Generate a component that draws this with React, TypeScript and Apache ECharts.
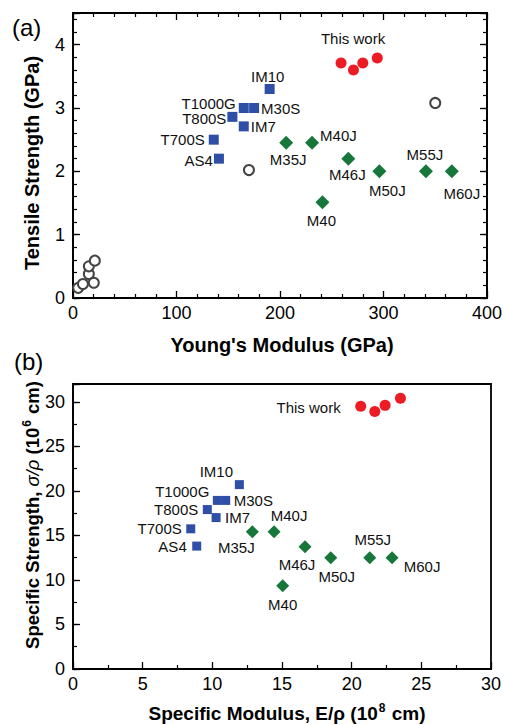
import React, { useEffect, useRef } from 'react';
import * as echarts from 'echarts';

// ---------- data ----------
const carbonNames = ['AS4', 'T700S', 'T800S', 'IM7', 'T1000G', 'M30S', 'IM10'];
const carbonModulus = [141, 136, 154, 165, 165, 175, 190];
const carbonStrength = [2.2, 2.5, 2.86, 2.71, 3.0, 3.0, 3.3];
const carbonSpecModulus = [8.88, 8.45, 9.64, 10.27, 10.36, 10.96, 11.94];
const carbonSpecStrength = [13.8, 15.74, 17.9, 17.0, 18.93, 18.93, 20.7];

const mjNames = ['M35J', 'M40J', 'M46J', 'M50J', 'M55J', 'M60J', 'M40'];
const mjModulus = [206, 231, 266, 296, 341, 366, 241];
const mjStrength = [2.45, 2.45, 2.2, 2.0, 2.0, 2.0, 1.51];
const mjSpecModulus = [12.87, 14.43, 16.65, 18.5, 21.3, 22.9, 15.05];
const mjSpecStrength = [15.4, 15.4, 13.74, 12.5, 12.5, 12.5, 9.35];

const thisWorkNames = ['This work', '', '', ''];
const thisWorkModulus = [259, 271, 280, 294];
const thisWorkStrength = [3.71, 3.6, 3.71, 3.79];
const thisWorkSpecModulus = [20.65, 21.66, 22.4, 23.5];
const thisWorkSpecStrength = [29.5, 28.9, 29.6, 30.4];

const otherModulus = [5, 9.6, 15.3, 15.3, 20.1, 21.1, 170, 350];
const otherStrength = [0.16, 0.22, 0.38, 0.5, 0.24, 0.59, 2.02, 3.08];

// axis ranges / tick steps
const modulusRange = [0, 400];
const modulusStep = 100;
const strengthRange = [0, 4.5];
const strengthStep = 1;
const specModulusRange = [0, 30];
const specModulusStep = 5;
const specStrengthRange = [0, 32];
const specStrengthStep = 5;

// ---------- label placement (align, dx, dy) ----------
type LP = [string, number, number];
const labelLayoutA: Record<string, LP> = {
  AS4: ['right', -6, 2],
  T700S: ['right', -9, 0],
  T800S: ['right', -6, 2],
  IM7: ['left', 7, 0],
  T1000G: ['right', -8, -5],
  M30S: ['left', 7, 0],
  IM10: ['center', -2, -13],
  M35J: ['center', 2, 17],
  M40J: ['left', 8, -7],
  M46J: ['center', -1, 16],
  M50J: ['center', 8, 19],
  M55J: ['center', -1, -17],
  M60J: ['center', 10, 22],
  M40: ['center', -1, 18],
  'This work': ['center', 12, -25],
};
const labelLayoutB: Record<string, LP> = {
  AS4: ['right', -10, 0],
  T700S: ['right', -9, 0],
  T800S: ['right', -9, 0],
  IM7: ['left', 9, 0],
  T1000G: ['right', -8, -9],
  M30S: ['left', 8, 0],
  IM10: ['center', -23, -13],
  M35J: ['center', -16, 16],
  M40J: ['center', 15, -16],
  M46J: ['center', -8, 18],
  M50J: ['center', 6, 19],
  M55J: ['center', 3, -18],
  M60J: ['center', 30, 9],
  M40: ['center', 0, 19],
  'This work': ['right', -20, 1],
};

const FONT = 'Liberation Sans, Arial, sans-serif';
const BLUE = '#2f4fa6';
const GREEN = '#17763a';
const RED = '#ec1c24';

function points(xs: number[], ys: number[], names: string[] | null, layout: Record<string, LP>) {
  return xs.map((x, i) => {
    const name = names ? names[i] : '';
    const item: any = { value: [x, ys[i]], name };
    if (name && layout[name]) {
      const [align, dx, dy] = layout[name];
      item.label = {
        show: true,
        position: 'inside',
        align,
        verticalAlign: 'middle',
        offset: [dx, dy],
        formatter: name,
        color: '#111',
        fontSize: 15,
        fontFamily: FONT,
      };
    }
    return item;
  });
}

const lineStyle = { color: '#000', width: 1.8 };

function xAx(grid: number, pos: string, range: number[], step: number, minorSplit: number, labels: boolean) {
  return {
    type: 'value',
    gridIndex: grid,
    position: pos,
    min: range[0],
    max: range[1],
    interval: step,
    axisLine: { show: true, onZero: false, lineStyle },
    axisTick: { show: true, inside: true, length: 7, lineStyle: { color: '#000', width: 1.3 } },
    minorTick: { show: true, splitNumber: minorSplit, length: 4, lineStyle: { color: '#000', width: 1.2 } },
    splitLine: { show: false },
    minorSplitLine: { show: false },
    axisLabel: { show: labels, color: '#000', fontSize: 18, fontFamily: FONT, margin: 6 },
  };
}

function yAx(grid: number, pos: string, range: number[], step: number, major: boolean, labels: boolean, labelStep: number) {
  return {
    type: 'value',
    gridIndex: grid,
    position: pos,
    min: range[0],
    max: range[1],
    interval: step,
    axisLine: { show: major, onZero: false, lineStyle },
    axisTick: { show: true, inside: true, length: major ? 7 : 4, lineStyle: { color: '#000', width: major ? 1.3 : 1.2 } },
    splitLine: { show: false },
    axisLabel: {
      show: labels,
      color: '#000',
      fontSize: 18,
      fontFamily: FONT,
      margin: 8,
      formatter: (v: number) => (Math.abs(v / labelStep - Math.round(v / labelStep)) < 1e-6 ? String(v) : ''),
    },
  };
}

export default function App() {
  const ref = useRef<HTMLDivElement>(null);
  useEffect(() => {
    if (!ref.current) return;
    const chart = echarts.init(ref.current, undefined, { renderer: 'svg' });
    const option: any = {
      animation: false,
      backgroundColor: '#fff',
      grid: [
        { left: 73, top: 13, width: 418, height: 285, show: true, borderColor: '#000', borderWidth: 1.8, backgroundColor: 'transparent' },
        { left: 73, top: 384, width: 418, height: 285, show: true, borderColor: '#000', borderWidth: 1.8, backgroundColor: 'transparent' },
      ],
      xAxis: [
        xAx(0, 'bottom', modulusRange, modulusStep, 5, true),
        xAx(0, 'top', modulusRange, modulusStep, 5, false),
        xAx(1, 'bottom', specModulusRange, specModulusStep, 2, true),
      ],
      yAxis: [
        yAx(0, 'left', strengthRange, strengthStep, true, true, strengthStep),
        yAx(0, 'left', strengthRange, 0.2, false, false, 1),
        yAx(0, 'right', strengthRange, strengthStep, true, false, 1),
        yAx(0, 'right', strengthRange, 0.2, false, false, 1),
        yAx(1, 'left', specStrengthRange, specStrengthStep, true, true, specStrengthStep),
        yAx(1, 'left', specStrengthRange, 2.5, false, false, 1),
      ],
      series: [
        {
          type: 'scatter', xAxisIndex: 0, yAxisIndex: 0, symbol: 'emptyCircle', symbolSize: 10,
          itemStyle: { color: '#444', borderColor: '#444', borderWidth: 1.5, opacity: 1 },
          data: points(otherModulus, otherStrength, null, labelLayoutA),
        },
        {
          type: 'scatter', xAxisIndex: 0, yAxisIndex: 0, symbol: 'rect', symbolSize: 10,
          itemStyle: { color: BLUE, opacity: 1 },
          data: points(carbonModulus, carbonStrength, carbonNames, labelLayoutA),
        },
        {
          type: 'scatter', xAxisIndex: 0, yAxisIndex: 0, symbol: 'diamond', symbolSize: 14,
          itemStyle: { color: GREEN, opacity: 1 },
          data: points(mjModulus, mjStrength, mjNames, labelLayoutA),
        },
        {
          type: 'scatter', xAxisIndex: 0, yAxisIndex: 0, symbol: 'circle', symbolSize: 11,
          itemStyle: { color: RED, opacity: 1 },
          data: points(thisWorkModulus, thisWorkStrength, thisWorkNames, labelLayoutA),
        },
        {
          type: 'scatter', xAxisIndex: 2, yAxisIndex: 4, symbol: 'rect', symbolSize: 9,
          itemStyle: { color: BLUE, opacity: 1 },
          data: points(carbonSpecModulus, carbonSpecStrength, carbonNames, labelLayoutB),
        },
        {
          type: 'scatter', xAxisIndex: 2, yAxisIndex: 4, symbol: 'diamond', symbolSize: 13,
          itemStyle: { color: GREEN, opacity: 1 },
          data: points(mjSpecModulus, mjSpecStrength, mjNames, labelLayoutB),
        },
        {
          type: 'scatter', xAxisIndex: 2, yAxisIndex: 4, symbol: 'circle', symbolSize: 11,
          itemStyle: { color: RED, opacity: 1 },
          data: points(thisWorkSpecModulus, thisWorkSpecStrength, thisWorkNames, labelLayoutB),
        },
      ],
      graphic: [
        { type: 'text', x: 12, y: 27, style: { text: '(a)', font: `24px ${FONT}`, fill: '#000', align: 'left', verticalAlign: 'middle' } },
        { type: 'text', x: 14, y: 361, style: { text: '(b)', font: `24px ${FONT}`, fill: '#000', align: 'left', verticalAlign: 'middle' } },
        { type: 'text', x: 282, y: 345, style: { text: "Young's Modulus (GPa)", font: `bold 20px ${FONT}`, fill: '#000', align: 'center', verticalAlign: 'middle' } },
        { type: 'text', x: 32, y: 163, rotation: Math.PI / 2, style: { text: 'Tensile Strength (GPa)', font: `bold 20px ${FONT}`, fill: '#000', align: 'center', verticalAlign: 'middle' } },
        {
          type: 'text', x: 287, y: 713,
          style: {
            text: '{b|Specific Modulus, E/ρ (10}{s|8}{b| cm)}',
            rich: {
              b: { fontSize: 19, fontWeight: 'bold', fontFamily: FONT, fill: '#000', lineHeight: 22 },
              s: { fontSize: 12, fontWeight: 'bold', fontFamily: FONT, fill: '#000', verticalAlign: 'top', lineHeight: 22, padding: [0, 1, 0, 1] },
            },
            align: 'center', verticalAlign: 'middle',
          },
        },
        {
          type: 'text', x: 32, y: 515, rotation: Math.PI / 2,
          style: {
            text: '{b|Specific Strength, }{i|σ/ρ}{b| (10}{s|6}{b| cm)}',
            rich: {
              b: { fontSize: 18.5, fontWeight: 'bold', fontFamily: FONT, fill: '#000', lineHeight: 22 },
              i: { fontSize: 18.5, fontStyle: 'italic', fontFamily: FONT, fill: '#000', lineHeight: 22 },
              s: { fontSize: 12, fontWeight: 'bold', fontFamily: FONT, fill: '#000', verticalAlign: 'top', lineHeight: 22, padding: [0, 1, 0, 1] },
            },
            align: 'center', verticalAlign: 'middle',
          },
        },
      ],
    };
    chart.setOption(option);
    return () => chart.dispose();
  }, []);
  return <div ref={ref} style={{ position: 'absolute', left: 0, top: 0, width: 505, height: 725 }} />;
}
